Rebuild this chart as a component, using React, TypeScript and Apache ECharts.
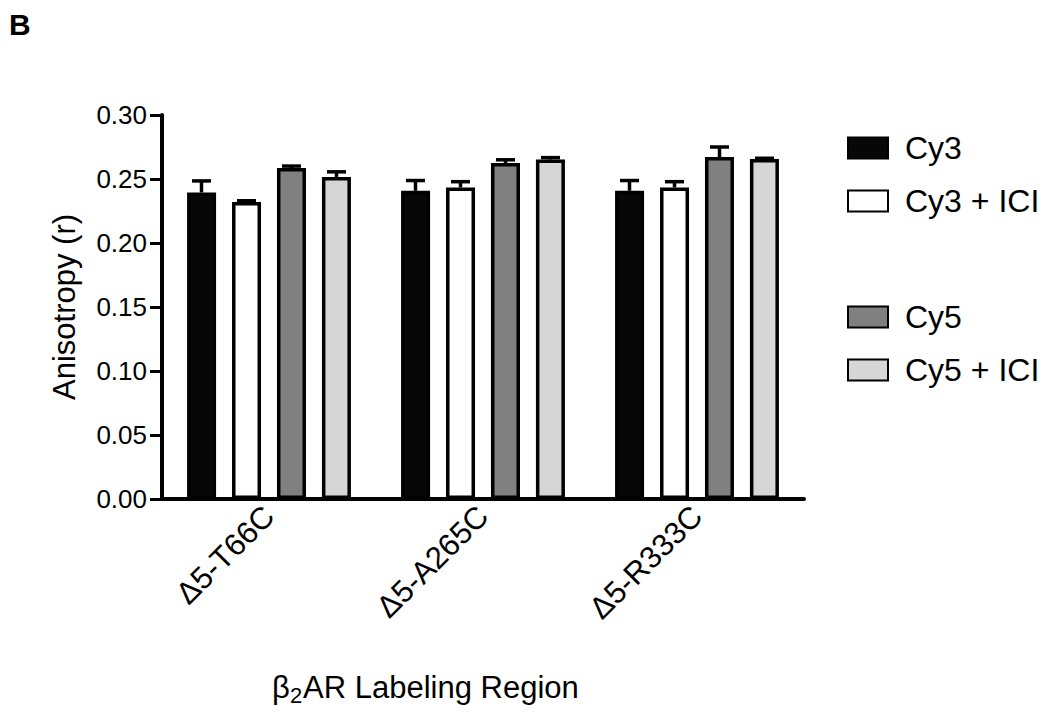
import React, { useEffect, useRef } from "react";
import * as echarts from "echarts";

const categories = ["Δ5-T66C", "Δ5-A265C", "Δ5-R333C"];
const seriesNames = ["Cy3", "Cy3 + ICI", "Cy5", "Cy5 + ICI"];
const cy3 = [0.2395, 0.2408, 0.2408];
const cy3Ici = [0.232, 0.2434, 0.2434];
const cy5 = [0.2586, 0.2625, 0.2672];
const cy5Ici = [0.2516, 0.2652, 0.2656];
const cy3Err = [0.009, 0.008, 0.008];
const cy3IciErr = [0.001, 0.0045, 0.0045];
const cy5Err = [0.0015, 0.0025, 0.0078];
const cy5IciErr = [0.004, 0.0015, 0.0006];
const yTicks = [0, 0.05, 0.1, 0.15, 0.2, 0.25, 0.3];

const FONT = "Liberation Sans, Arial, Helvetica, sans-serif";

export default function App() {
  const ref = useRef<HTMLDivElement>(null);
  useEffect(() => {
    if (!ref.current) return;
    const chart = echarts.init(ref.current, null, { renderer: "svg" });
    const values = [cy3, cy3Ici, cy5, cy5Ici];
    const errs = [cy3Err, cy3IciErr, cy5Err, cy5IciErr];
    const colors = ["#070707", "#ffffff", "#808080", "#d6d6d6"];
    const barWidth = 29;
    const pitch = 45;

    const bars = seriesNames.map((name, i) => ({
      name,
      type: "bar",
      data: values[i],
      barWidth,
      barGap: "55%",
      itemStyle: { color: colors[i], borderColor: "#000", borderWidth: 3.5 },
      z: 2,
    }));

    const errSeries = seriesNames.map((name, i) => ({
      name: name + " err",
      type: "custom",
      data: values[i].map((v, k) => [k, v, errs[i][k]]),
      z: 3,
      renderItem: (params: any, api: any) => {
        const c = api.value(0);
        const v = api.value(1);
        const e = api.value(2);
        const base = api.coord([c, v]);
        const top = api.coord([c, v + e]);
        const x = base[0] + (i - 1.5) * pitch;
        const style = { stroke: "#000", lineWidth: 3.5 };
        return {
          type: "group",
          children: [
            { type: "line", shape: { x1: x, y1: base[1], x2: x, y2: top[1] }, style },
            { type: "line", shape: { x1: x - 9.5, y1: top[1], x2: x + 9.5, y2: top[1] }, style },
          ],
        };
      },
    }));

    const legendCommon = {
      orient: "vertical",
      left: 842,
      itemWidth: 40,
      itemHeight: 21,
      itemGap: 21,
      icon: "rect",
      textStyle: { fontSize: 32, color: "#000", fontFamily: FONT, padding: [0, 0, 0, 12] },
    };

    const titleStyle = { fontSize: 31, fill: "#000", fontFamily: FONT };

    chart.setOption({
      animation: false,
      textStyle: { fontFamily: FONT },
      grid: { left: 162, right: 241, top: 115, bottom: 218 },
      legend: [
        { ...legendCommon, top: 127, data: [seriesNames[0], seriesNames[1]] },
        { ...legendCommon, top: 296, data: [seriesNames[2], seriesNames[3]] },
      ],
      xAxis: {
        type: "category",
        data: categories,
        axisLine: { lineStyle: { color: "#000", width: 4 } },
        axisTick: { show: false },
        axisLabel: {
          rotate: 45,
          fontSize: 31,
          color: "#000",
          fontFamily: FONT,
          margin: 12,
        },
      },
      yAxis: {
        type: "value",
        min: 0,
        max: 0.3,
        interval: 0.05,
        name: "Anisotropy (r)",
        nameLocation: "middle",
        nameGap: 82,
        nameTextStyle: { fontSize: 31, color: "#000", fontFamily: FONT },
        splitLine: { show: false },
        axisLine: { show: true, lineStyle: { color: "#000", width: 4 } },
        axisTick: { show: true, length: 12, lineStyle: { color: "#000", width: 3 } },
        axisLabel: {
          fontSize: 26,
          color: "#000",
          fontFamily: FONT,
          margin: 15,
          formatter: (v: number) => (yTicks.includes(Math.round(v * 100) / 100) ? v.toFixed(2) : ""),
        },
      },
      graphic: [
        {
          type: "text",
          left: 9,
          top: 9,
          style: { text: "B", fontSize: 30, fontWeight: "bold", fill: "#000", fontFamily: FONT },
        },
        { type: "text", left: 272, top: 672, style: { ...titleStyle, text: "β" } },
        { type: "text", left: 290, top: 684, style: { fontSize: 22, fill: "#000", fontFamily: FONT, text: "2" } },
        { type: "text", left: 303, top: 672, style: { ...titleStyle, text: "AR Labeling Region" } },
      ],
      series: [...bars, ...errSeries],
    } as any);
    return () => chart.dispose();
  }, []);
  return (
    <div
      ref={ref}
      style={{ position: "absolute", left: 0, top: 0, width: 1045, height: 717, background: "#fff" }}
    />
  );
}
